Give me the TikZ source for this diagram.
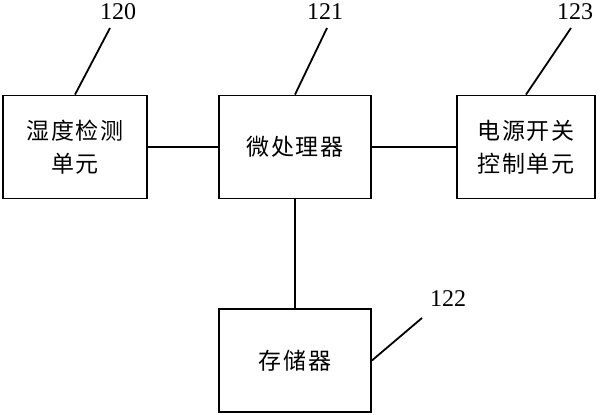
\documentclass[tikz,border=0pt]{standalone}
\usepackage{fontspec}
\setmainfont{Liberation Serif}
\newfontfamily\cjk{Noto Sans CJK SC}[LetterSpace=8]
\begin{document}
\begin{tikzpicture}[x=1pt,y=1pt,
  box/.style={draw,line width=1.8pt,align=center,inner sep=0pt,
    font=\cjk\fontsize{23}{33}\selectfont},
  num/.style={font=\fontsize{24}{28}\selectfont,inner sep=0pt},
  wire/.style={line width=1.8pt}]
\useasboundingbox (0,0) rectangle (600,-415);
\node[box,minimum width=144pt,minimum height=103pt] (hum) at (75,-147) {湿度检测\\单元};
\node[box,minimum width=152pt,minimum height=103pt] (cpu) at (295,-147) {微处理器};
\node[box,minimum width=138pt,minimum height=103pt] (pwr) at (526,-147) {电源开关\\控制单元};
\node[box,minimum width=152pt,minimum height=103pt] (mem) at (295,-360.5) {存储器};
\draw[wire] (hum.east) -- (cpu.west);
\draw[wire] (cpu.east) -- (pwr.west);
\draw[wire] (cpu.south) -- (mem.north);
\node[num] (l120) at (118,-12) {120};
\node[num] (l121) at (325,-12) {121};
\node[num] (l123) at (575,-12) {123};
\node[num] (l122) at (448,-299) {122};
\coordinate (e120) at (110,-28);
\coordinate (e121) at (327,-28);
\coordinate (e123) at (571,-28);
\coordinate (e122) at (422,-318);
\draw[wire] (hum.north) -- (e120);
\draw[wire] (cpu.north) -- (e121);
\draw[wire] (pwr.north) -- (e123);
\draw[wire] (mem.east) -- (e122);
\end{tikzpicture}
\end{document}
